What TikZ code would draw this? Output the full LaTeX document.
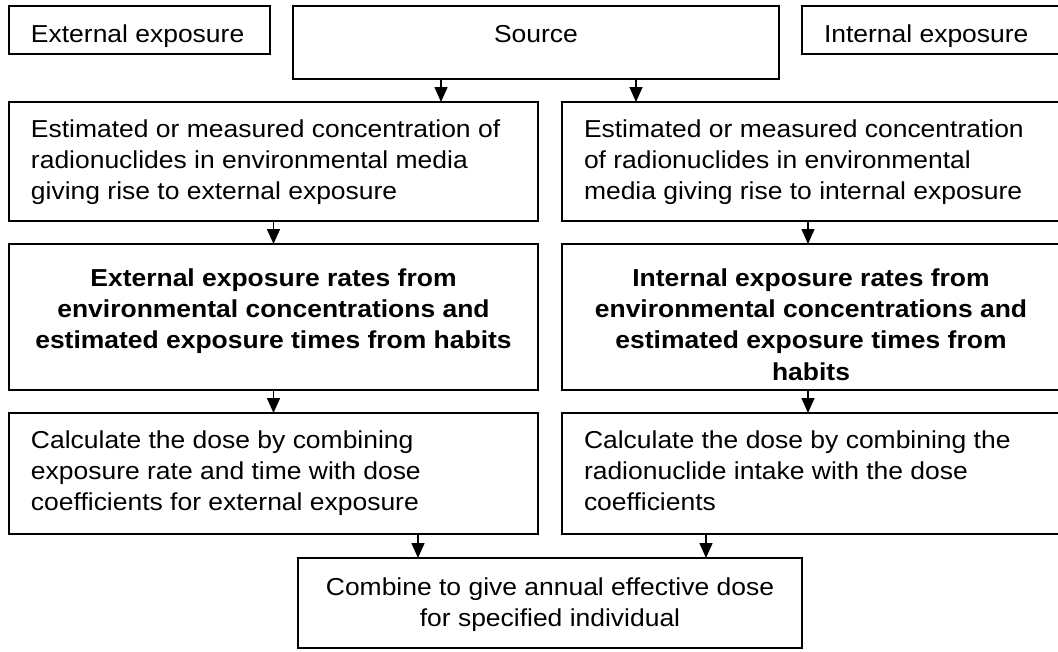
\documentclass[tikz,border=0pt]{standalone}
\usepackage{fontspec}
\setmainfont{Liberation Sans}[FakeStretch=1.08]
\usetikzlibrary{arrows.meta}

% width, height, first-baseline offset from top, text
\newcommand{\lefttext}[4]{\parbox[c][#2pt][t]{#1pt}{\parskip=0pt\raggedright\leftskip=22pt\relax\vspace*{\dimexpr#3pt-21.98pt\relax}\strut#4}}
\newcommand{\centertext}[4]{\parbox[c][#2pt][t]{#1pt}{\parskip=0pt\centering\vspace*{\dimexpr#3pt-21.98pt\relax}\strut#4}}

\tikzset{
  box/.style={draw, line width=1.5pt, inner sep=0pt, outer sep=0pt, anchor=north west},
  arr/.style={line width=1.5pt, -{Triangle[length=15pt,width=13pt]}},
}

\begin{document}
\begin{tikzpicture}[x=1pt,y=1pt,font=\fontsize{24.5}{31.4}\selectfont]
\useasboundingbox (0,0) rectangle (1058,-651);

\node[box] (ext) at (9,-6) {\lefttext{261}{48}{36.5}{\mbox{External exposure}}};
\node[box] (src) at (293,-6) {\centertext{486}{73}{36.5}{\mbox{Source}}};
\node[box] (int) at (802,-6) {\lefttext{258}{48}{36.5}{\mbox{Internal exposure}}};

\node[box] (c1) at (9,-102) {\lefttext{529}{119}{35}{\mbox{Estimated or measured concentration of}\\\mbox{radionuclides in environmental media}\\\mbox{giving rise to external exposure}}};
\node[box] (c2) at (562,-102) {\lefttext{498}{119}{35}{\mbox{Estimated or measured concentration}\\\mbox{of radionuclides in environmental}\\\mbox{media giving rise to internal exposure}}};

\node[box] (r1) at (9,-244) {\centertext{529}{146}{42}{\bfseries\mbox{External exposure rates from}\\\mbox{environmental concentrations and}\\\mbox{estimated exposure times from habits}}};
\node[box] (r2) at (562,-244) {\centertext{498}{146}{42}{\bfseries\mbox{Internal exposure rates from}\\\mbox{environmental concentrations and}\\\mbox{estimated exposure times from}\\\mbox{habits}}};

\node[box] (d1) at (9,-413) {\lefttext{529}{121}{35}{\mbox{Calculate the dose by combining}\\\mbox{exposure rate and time with dose}\\\mbox{coefficients for external exposure}}};
\node[box] (d2) at (562,-413) {\lefttext{498}{121}{35}{\mbox{Calculate the dose by combining the}\\\mbox{radionuclide intake with the dose}\\\mbox{coefficients}}};

\node[box] (comb) at (298,-558) {\centertext{504}{90}{37}{\mbox{Combine to give annual effective dose}\\\mbox{for specified individual}}};

\draw[arr] (src.south -| 441,0) -- (c1.north -| 441,0);
\draw[arr] (src.south -| 636,0) -- (c2.north -| 636,0);
\draw[arr] (c1.south) -- (r1.north);
\draw[arr] (c2.south -| 808,0) -- (r2.north -| 808,0);
\draw[arr] (r1.south) -- (d1.north);
\draw[arr] (r2.south -| 808,0) -- (d2.north -| 808,0);
\draw[arr] (d1.south -| 418,0) -- (comb.north -| 418,0);
\draw[arr] (d2.south -| 706,0) -- (comb.north -| 706,0);
\end{tikzpicture}
\end{document}
